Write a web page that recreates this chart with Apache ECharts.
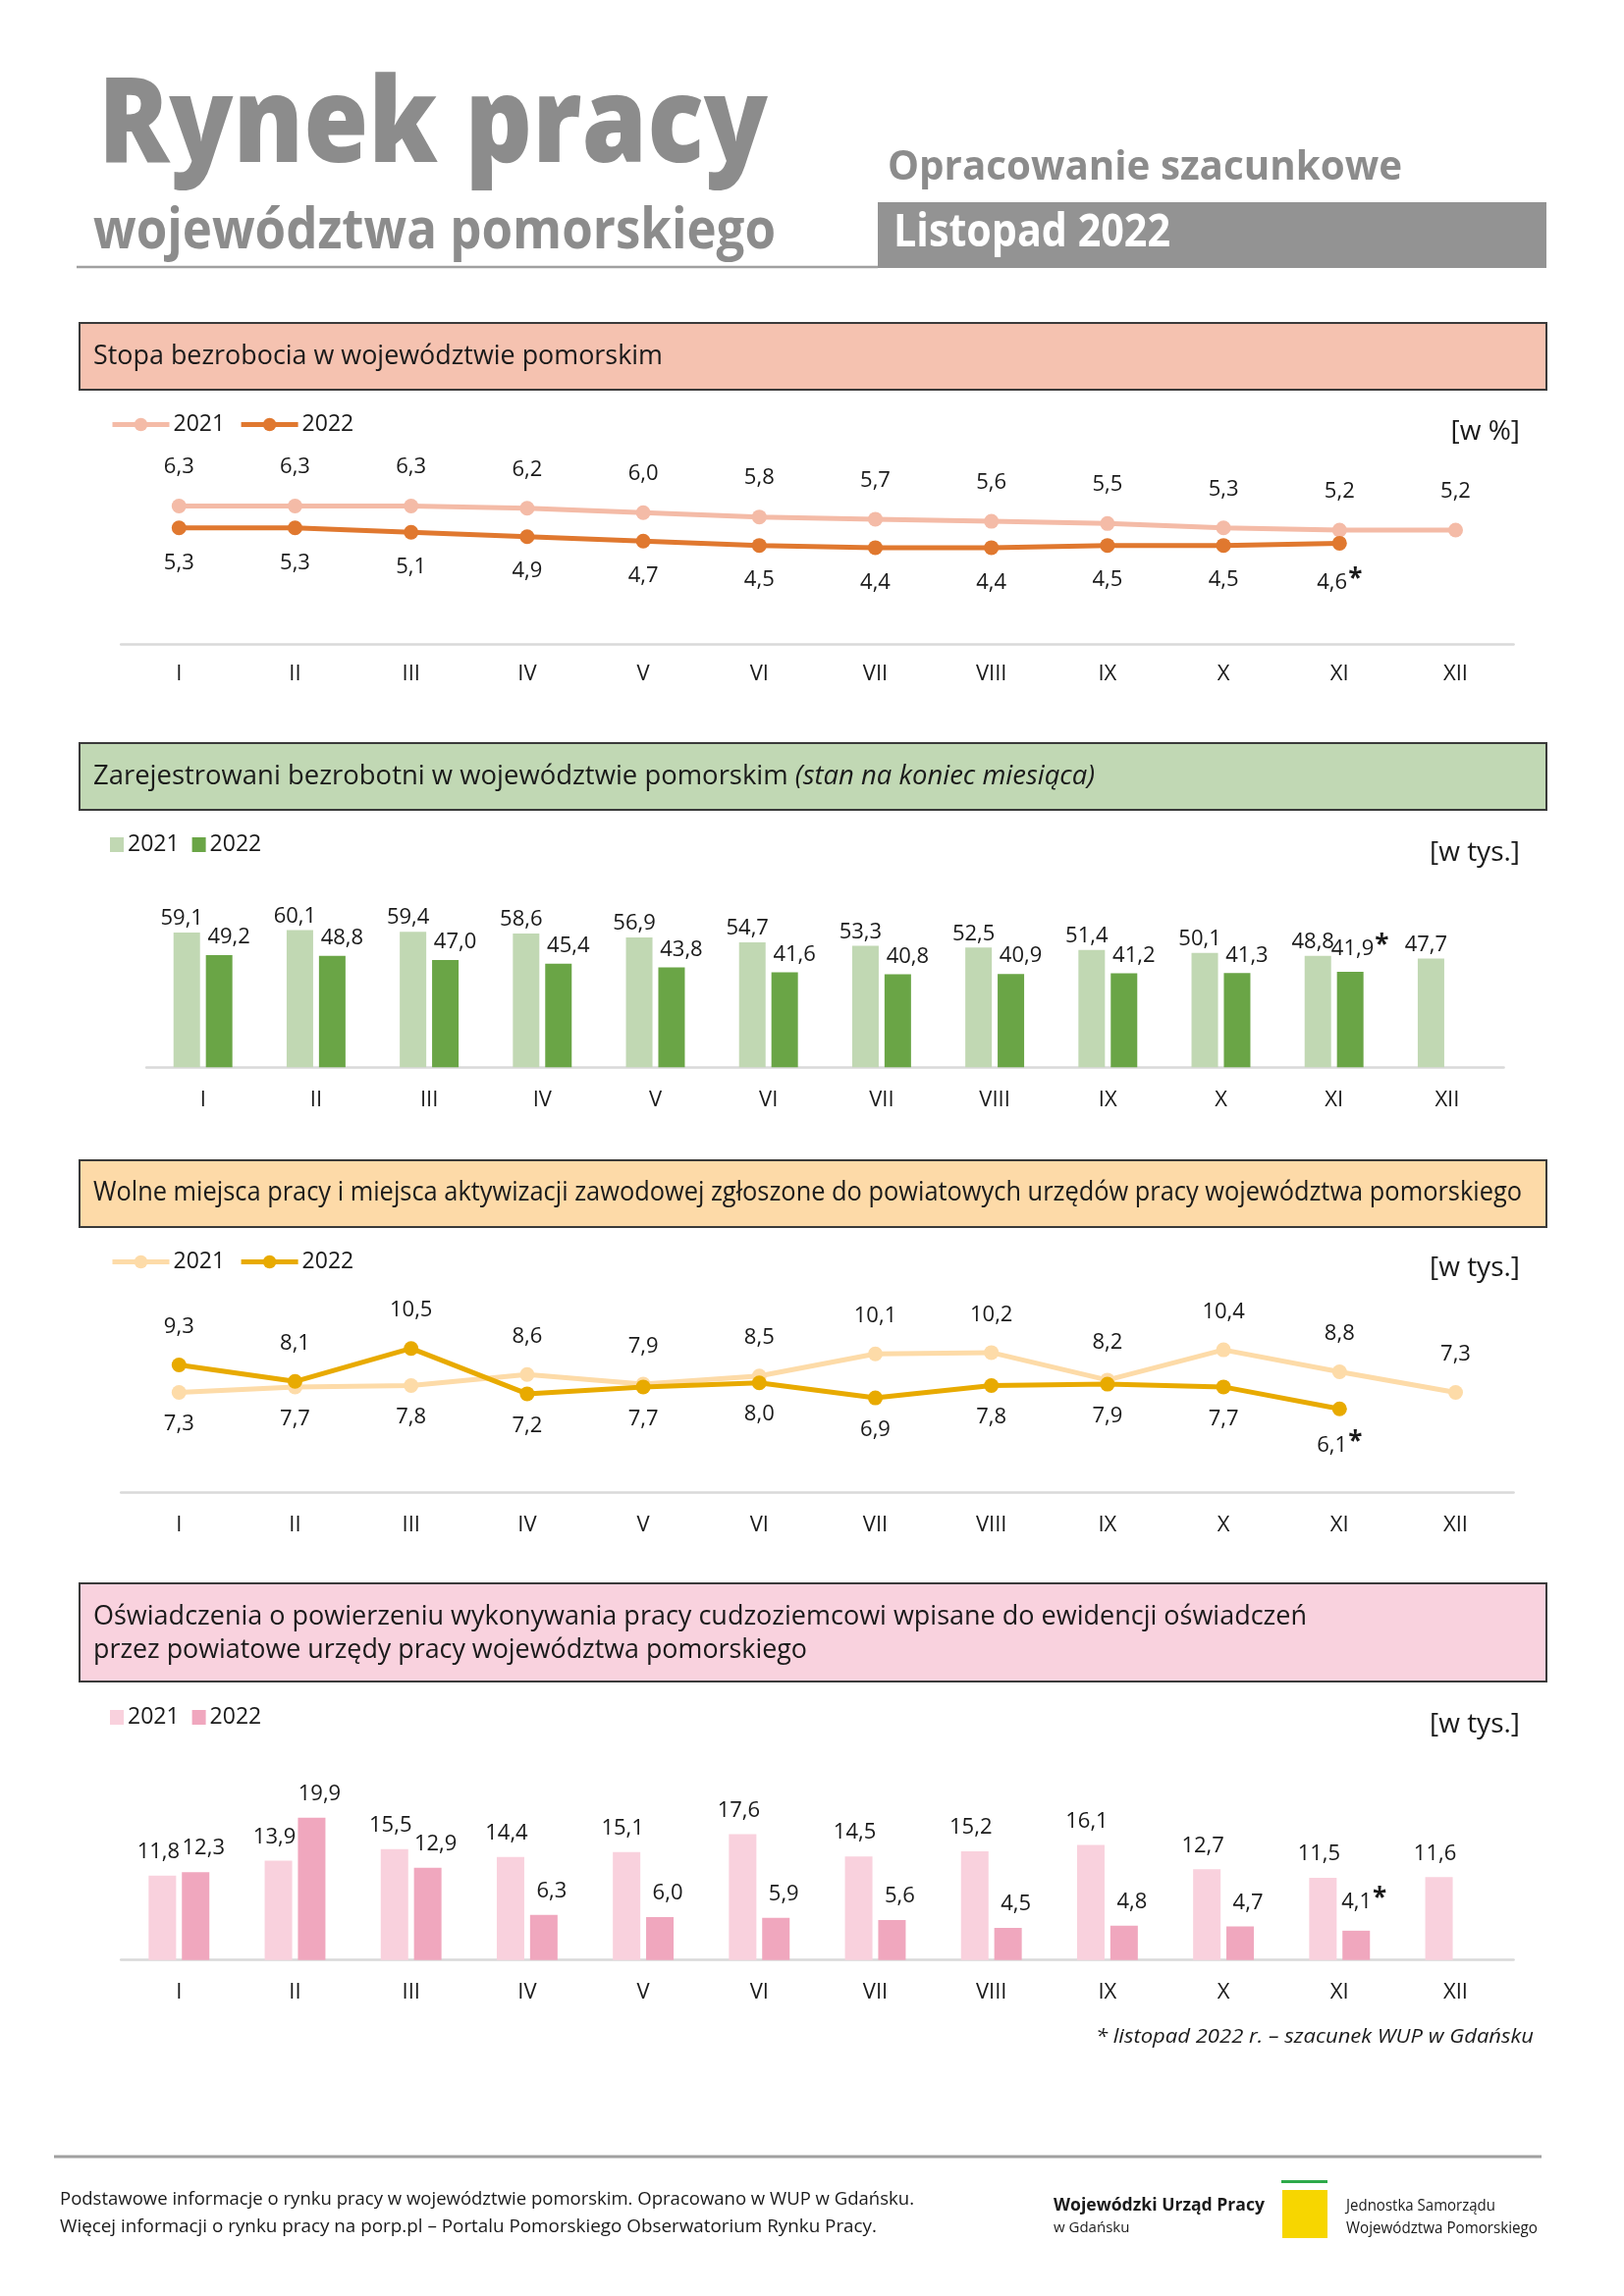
<!DOCTYPE html>
<html><head><meta charset="utf-8">
<script src="https://cdn.jsdelivr.net/npm/echarts@6/dist/echarts.min.js"></script>
<style>html,body{margin:0;padding:0;background:#fff}#c{width:1654px;height:2339px}</style>
</head><body><div id="c"></div>
<script>
// ---------- data ----------
const months = ['I','II','III','IV','V','VI','VII','VIII','IX','X','XI','XII'];
const rate2021 = [6.3,6.3,6.3,6.2,6.0,5.8,5.7,5.6,5.5,5.3,5.2,5.2];
const rate2022 = [5.3,5.3,5.1,4.9,4.7,4.5,4.4,4.4,4.5,4.5,4.6];
const unemployed2021 = [59.1,60.1,59.4,58.6,56.9,54.7,53.3,52.5,51.4,50.1,48.8,47.7];
const unemployed2022 = [49.2,48.8,47.0,45.4,43.8,41.6,40.8,40.9,41.2,41.3,41.9];
const vacancies2021 = [7.3,7.7,7.8,8.6,7.9,8.5,10.1,10.2,8.2,10.4,8.8,7.3];
const vacancies2022 = [9.3,8.1,10.5,7.2,7.7,8.0,6.9,7.8,7.9,7.7,6.1];
const declarations2021 = [11.8,13.9,15.5,14.4,15.1,17.6,14.5,15.2,16.1,12.7,11.5,11.6];
const declarations2022 = [12.3,19.9,12.9,6.3,6.0,5.9,5.6,4.5,4.8,4.7,4.1];
const estimateMonth = 'XI';
const years = ['2021','2022'];

// ---------- texts ----------
const titleMain = 'Rynek pracy';
const titleSub = 'województwa pomorskiego';
const titleNote = 'Opracowanie szacunkowe';
const titleMonth = 'Listopad 2022';
const head1 = 'Stopa bezrobocia w województwie pomorskim';
const head2a = 'Zarejestrowani bezrobotni w województwie pomorskim ';
const head2b = '(stan na koniec miesiąca)';
const head3 = 'Wolne miejsca pracy i miejsca aktywizacji zawodowej zgłoszone do powiatowych urzędów pracy województwa pomorskiego';
const head4a = 'Oświadczenia o powierzeniu wykonywania pracy cudzoziemcowi wpisane do ewidencji oświadczeń';
const head4b = 'przez powiatowe urzędy pracy województwa pomorskiego';
const unitPct = '[w %]';
const unitThous = '[w tys.]';
const footnote = '* listopad 2022 r. – szacunek WUP w Gdańsku';
const foot1 = 'Podstawowe informacje o rynku pracy w województwie pomorskim. Opracowano w WUP w Gdańsku.';
const foot2 = 'Więcej informacji o rynku pracy na porp.pl – Portalu Pomorskiego Obserwatorium Rynku Pracy.';
const logo1 = 'Wojewódzki Urząd Pracy';
const logo2 = 'w Gdańsku';
const logo3 = 'Jednostka Samorządu';
const logo4 = 'Województwa Pomorskiego';

// ---------- helpers ----------
const FONT = "'Open Sans', 'Noto Sans', sans-serif";
const TXT = '#1a1a1a';
const ctx = document.createElement('canvas').getContext('2d');
function measure(text, size, weight, style) {
  ctx.font = (style || 'normal') + ' ' + (weight || 'normal') + ' ' + size + 'px ' + FONT;
  return ctx.measureText(text).width;
}
function gtext(text, x, y, size, o) {
  o = o || {};
  const w = measure(text, size, o.weight, o.style);
  const sx = o.width ? o.width / w : (o.scale || 1);
  const al = o.align || 'left';
  return {type: 'text', x: x, y: y, scaleX: sx, z: 20,
    style: {text: text, fill: o.color || TXT, fontSize: size, fontWeight: o.weight || 'normal',
      fontStyle: o.style || 'normal', fontFamily: FONT, align: al, textAlign: al,
      verticalAlign: 'middle', textVerticalAlign: 'middle'}};
}
function fmt(v) { return v.toFixed(1).replace('.', ','); }
function box(x, y, w, h, fill) {
  return {type: 'rect', shape: {x: x, y: y, width: w, height: h}, z: 5,
    style: {fill: fill, stroke: '#3a3a3a', lineWidth: 2}};
}

// ---------- graphics ----------
const graphics = [];
graphics.push(gtext(titleMain, 100, 131, 121, {weight: 800, color: '#8c8c8c', width: 682}));
graphics.push(gtext(titleSub, 95, 236, 58, {weight: 'bold', color: '#8c8c8c', width: 695}));
graphics.push({type: 'line', shape: {x1: 78, y1: 272, x2: 894, y2: 272}, style: {stroke: '#a0a0a0', lineWidth: 2.5}, z: 5});
graphics.push({type: 'rect', shape: {x: 894, y: 206, width: 681, height: 67}, style: {fill: '#939393'}, z: 5});
graphics.push(gtext(titleMonth, 910, 238, 47, {weight: 'bold', color: '#ffffff', width: 282}));
graphics.push(gtext(titleNote, 904, 171, 41, {weight: 'bold', color: '#8c8c8c', width: 524}));

// section headers
graphics.push(box(81, 329, 1494, 68, '#f5c2b0'));
graphics.push(gtext(head1, 95, 363, 27, {width: 580}));
graphics.push(box(81, 757, 1494, 68, '#c1d8b4'));
(function () {
  const w1 = measure(head2a, 27), w2 = measure(head2b, 27, 'normal', 'italic');
  const s = 1020 / (w1 + w2);
  graphics.push(gtext(head2a, 95, 791, 27, {scale: s}));
  graphics.push(gtext(head2b, 95 + w1 * s, 791, 27, {scale: s, style: 'italic'}));
})();
graphics.push(box(81, 1182, 1494, 68, '#fddaa8'));
graphics.push(gtext(head3, 95, 1215, 27, {width: 1455}));
graphics.push(box(81, 1613, 1494, 100, '#f9d2de'));
graphics.push(gtext(head4a, 95, 1647, 27, {width: 1236}));
graphics.push(gtext(head4b, 95, 1681, 27, {width: 727}));

// units
graphics.push(gtext(unitPct, 1548, 440, 28, {align: 'right'}));
graphics.push(gtext(unitThous, 1548, 869, 28, {align: 'right'}));
graphics.push(gtext(unitThous, 1548, 1292, 28, {align: 'right'}));
graphics.push(gtext(unitThous, 1548, 1757, 28, {align: 'right'}));

// footnote
graphics.push(gtext(footnote, 1562, 2075, 20, {style: 'italic', align: 'right', width: 446}));

// footer
graphics.push({type: 'line', shape: {x1: 55, y1: 2197, x2: 1570, y2: 2197}, style: {stroke: '#a0a0a0', lineWidth: 3}, z: 5});
graphics.push(gtext(foot1, 61, 2241, 18, {width: 870}));
graphics.push(gtext(foot2, 61, 2269, 18, {width: 832}));
graphics.push(gtext(logo1, 1073, 2247, 18, {weight: 'bold', width: 215}));
graphics.push(gtext(logo2, 1073, 2270, 15));
graphics.push({type: 'rect', shape: {x: 1305, y: 2221, width: 47, height: 3}, style: {fill: '#2eaa4a'}, z: 5});
graphics.push({type: 'rect', shape: {x: 1306, y: 2231, width: 46, height: 49}, style: {fill: '#f7d600'}, z: 5});
graphics.push(gtext(logo3, 1371, 2247, 16, {width: 152}));
graphics.push(gtext(logo4, 1371, 2270, 16, {width: 195}));

// ---------- charts ----------
const grids = [
  {left: 123.2, top: 433, width: 1418.4, height: 223},
  {left: 149.1, top: 901.3, width: 1382.4, height: 186},
  {left: 123.2, top: 1324.7, width: 1418.4, height: 196},
  {left: 123.2, top: 1814.7, width: 1418.4, height: 182}
].map(g => Object.assign({containLabel: false, outerBoundsMode: 'none'}, g));
const yMax = [10, 80, 14, 25];

const xAxes = grids.map((g, i) => ({
  type: 'category', gridIndex: i, data: months, boundaryGap: true,
  axisLine: {show: true, lineStyle: {color: '#d9d9d9', width: 2.5}},
  axisTick: {show: false},
  axisLabel: {margin: i === 0 ? 20 : 22, fontSize: 22, color: TXT, fontFamily: FONT}
}));
const yAxes = grids.map((g, i) => ({type: 'value', gridIndex: i, min: 0, max: yMax[i], show: false, splitLine: {show: false}}));

const richStar = {s: {fontSize: 26, fontWeight: 'bold', color: TXT, fontFamily: FONT, padding: [0, 0, 6, 1]}};
function labelFmt(p) {
  const star = (months[p.dataIndex] === estimateMonth && p.seriesName.endsWith('2022')) ? '{s|*}' : '';
  return fmt(Number(p.value)) + star;
}

function lineData(vals, other, topDist, botDist) {
  return vals.map((v, i) => {
    const o = other[i];
    const above = (o === undefined) || v >= o;
    return {value: v, label: {position: above ? 'top' : 'bottom', distance: above ? topDist : botDist}};
  });
}
function lineSeries(prefix, idx, year, vals, other, color, topDist, botDist, z) {
  return {
    type: 'line', name: prefix + '_' + year, xAxisIndex: idx, yAxisIndex: idx,
    data: lineData(vals, other, topDist, botDist),
    symbol: 'circle', symbolSize: 15, z: z,
    lineStyle: {width: 5, color: color}, itemStyle: {color: color},
    label: {show: true, formatter: labelFmt, rich: richStar, fontSize: 22, color: TXT, fontFamily: FONT},
    emphasis: {disabled: true}
  };
}
function barSeries(prefix, idx, year, vals, color, bw, gap, dist, off) {
  return {
    type: 'bar', name: prefix + '_' + year, xAxisIndex: idx, yAxisIndex: idx,
    data: vals, barWidth: bw, barGap: gap, itemStyle: {color: color},
    label: {show: true, position: 'top', distance: dist, offset: off, formatter: labelFmt, rich: richStar,
      fontSize: 22, color: TXT, fontFamily: FONT},
    emphasis: {disabled: true}
  };
}

const series = [
  lineSeries('a', 0, '2021', rate2021, rate2022, '#f4bba7', 21, 17, 2),
  lineSeries('a', 0, '2022', rate2022, rate2021, '#e0782f', 21, 17, 3),
  barSeries('b', 1, '2021', unemployed2021, '#c1d8b3', 27, '22%', 3, [-5, 0]),
  barSeries('b', 1, '2022', unemployed2022, '#6aa546', 27, '22%', 7, [10, 0]),
  lineSeries('c', 2, '2021', vacancies2021, vacancies2022, '#fddba8', 20, 14, 2),
  lineSeries('c', 2, '2022', vacancies2022, vacancies2021, '#e8aa00', 20, 14, 3),
  barSeries('d', 3, '2021', declarations2021, '#f9d1dd', 28, '21%', 13, [-4, 0]),
  barSeries('d', 3, '2022', declarations2022, '#f0a7be', 28, '21%', 13, [8, 0])
];

function legend(prefix, top, isBar) {
  const l = {
    data: years.map(y => prefix + '_' + y), left: 112, top: top, padding: 0,
    itemGap: isBar ? 13 : 14, itemWidth: isBar ? 14 : 58, itemHeight: isBar ? 15 : 17,
    formatter: n => n.split('_')[1],
    textStyle: {fontSize: 23, color: TXT, fontFamily: FONT, padding: [0, 0, 0, -1]},
    selectedMode: false
  };
  if (isBar) l.icon = 'rect';
  else l.lineStyle = {width: 5};
  return l;
}

const option = {
  animation: false,
  backgroundColor: '#ffffff',
  textStyle: {fontFamily: FONT},
  grid: grids, xAxis: xAxes, yAxis: yAxes, series: series,
  legend: [legend('a', 421, false), legend('b', 849, true), legend('c', 1274, false), legend('d', 1738, true)],
  graphic: {elements: graphics}
};
const chart = echarts.init(document.getElementById('c'), null, {renderer: 'canvas', width: 1654, height: 2339});
chart.setOption(option);
</script>
</body></html>
